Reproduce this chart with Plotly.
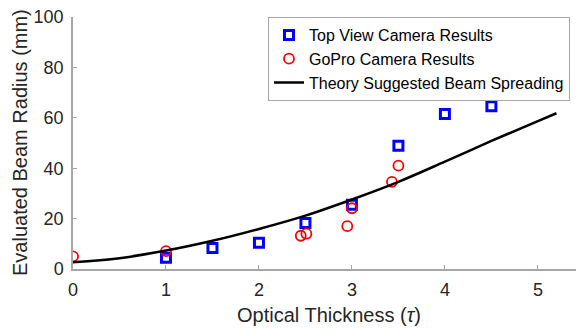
import plotly.graph_objects as go

# Optical thickness values and evaluated beam radius (mm)
tau_top = [1.0, 1.5, 2.0, 2.5, 3.0, 3.5, 4.0, 4.5]
radius_top = [4.5, 8.3, 10.4, 18.3, 25.5, 48.9, 61.5, 64.6]

tau_gopro = [0.0, 1.0, 2.45, 2.51, 2.95, 3.0, 3.43, 3.5]
radius_gopro = [5.0, 7.1, 13.2, 14.0, 17.0, 24.1, 34.6, 41.0]

tau_theory = [0.0, 0.5, 1.0, 1.5, 2.0, 2.5, 3.0, 3.5, 4.0, 4.5, 5.0, 5.2]
radius_theory = [2.7, 4.3, 7.3, 11.2, 15.9, 21.2, 27.6, 34.6, 42.6, 50.8, 58.7, 61.8]

x_ticks = [0, 1, 2, 3, 4, 5]
y_ticks = [0, 20, 40, 60, 80, 100]

FONT = "Liberation Sans, Arial, sans-serif"
AXIS_GRAY = "#a6a6a6"
TEXT_GRAY = "#262626"

fig = go.Figure()

fig.add_trace(go.Scatter(
    x=tau_top, y=radius_top, mode="markers",
    name="Top View Camera Results",
    marker=dict(symbol="square-open", size=9, color="#0000ff",
                line=dict(width=3, color="#0000ff")),
))
fig.add_trace(go.Scatter(
    x=tau_gopro, y=radius_gopro, mode="markers",
    name="GoPro Camera Results",
    marker=dict(symbol="circle-open", size=10, color="#ff0000",
                line=dict(width=1.8, color="#ff0000")),
))
fig.add_trace(go.Scatter(
    x=tau_theory, y=radius_theory, mode="lines",
    name="Theory Suggested Beam Spreading",
    line=dict(color="black", width=2.5, shape="spline"),
))

axis_common = dict(
    showgrid=False, zeroline=False, showline=True,
    linecolor=AXIS_GRAY, linewidth=1.5,
    ticks="inside", ticklen=4, tickcolor=AXIS_GRAY, tickwidth=1,
    tickfont=dict(family=FONT, size=18, color=TEXT_GRAY),
    automargin=False,
)

fig.update_layout(
    width=576, height=330,
    margin=dict(l=73, r=0, t=17, b=61, autoexpand=False),
    paper_bgcolor="white", plot_bgcolor="white",
    font=dict(family=FONT, color=TEXT_GRAY),
    showlegend=True,
    legend=dict(
        xref="container", yref="container",
        x=268 / 576, y=1 - 17 / 330, xanchor="left", yanchor="top",
        bgcolor="white", bordercolor=AXIS_GRAY, borderwidth=1,
        font=dict(family=FONT, size=16, color="black"),
        tracegroupgap=0, itemwidth=30,
    ),
    xaxis=dict(range=[0, 5.41], tickvals=x_ticks, ticklabelstandoff=4,
               **axis_common),
    yaxis=dict(range=[0, 100], tickvals=y_ticks, ticklabelstandoff=4,
               **axis_common),
)

# Axis titles
fig.add_annotation(
    text="Optical Thickness (<i>τ</i>)",
    xref="x", yref="paper", x=2.75, y=0, yshift=-46,
    xanchor="center", yanchor="middle", showarrow=False,
    font=dict(family=FONT, size=20, color=TEXT_GRAY),
)
fig.add_annotation(
    text="Evaluated Beam Radius (mm)",
    xref="paper", yref="paper", x=0, y=0.5, xshift=-53,
    xanchor="center", yanchor="middle", textangle=-90, showarrow=False,
    font=dict(family=FONT, size=20, color=TEXT_GRAY),
)

fig.write_html("out.html")
